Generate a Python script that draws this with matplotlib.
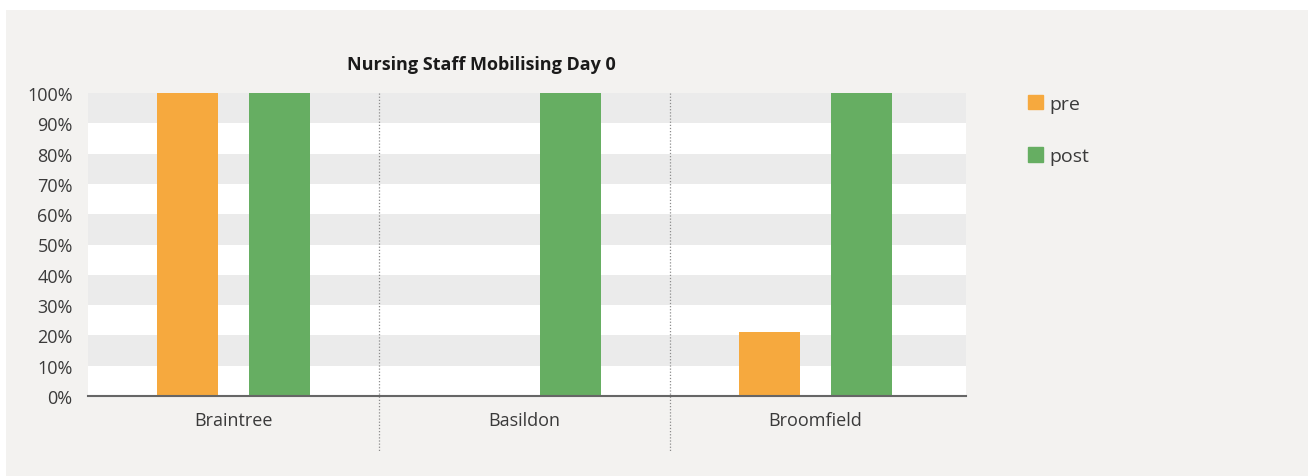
import matplotlib.pyplot as plt
import matplotlib.patches as mpatches
import numpy as np

plt.rcParams['font.family'] = ['Open Sans', 'DejaVu Sans']

# data
sites = ['Braintree', 'Basildon', 'Broomfield']
pre = [100, 0, 21]
post = [100, 100, 100]
yticks = list(range(0, 101, 10))

W, H = 1314, 477
fig = plt.figure(figsize=(W / 100, H / 100), dpi=100, facecolor='white')

# light panel behind the chart
fig.patches.append(mpatches.Rectangle((6 / W, 0), 1302 / W, 466 / H,
                                      transform=fig.transFigure,
                                      facecolor='#f3f2f0', edgecolor='none', zorder=-5))

ax = fig.add_axes([88 / W, 1 - 397 / H, (966 - 88) / W, (397 - 94) / H])
ax.set_facecolor('none')

x = np.arange(len(sites))
bw = 0.21
off = 0.158

# alternating horizontal bands
for lo in range(0, 100, 10):
    c = '#ebebeb' if (lo // 10) % 2 == 1 else 'white'
    ax.axhspan(lo, lo + 10, color=c, zorder=0, lw=0)

ax.bar(x - off, pre, bw, color='#f6a93e', label='pre', zorder=2)
ax.bar(x + off, post, bw, color='#66ae62', label='post', zorder=2)

ax.set_xlim(-0.5, len(sites) - 0.5 + 0.017)
ax.set_ylim(0, 100)

# dotted separators between categories, running below the axis
for s in x[:-1] + 0.5:
    ax.plot([s, s], [100, -18], ls=(0, (1, 1.5)), color='#8c8c8c', lw=0.9,
            clip_on=False, zorder=3)

ax.set_yticks(yticks)
ax.set_yticklabels([f'{v}%' for v in yticks])
ax.set_xticks(x)
ax.set_xticklabels(sites)
ax.tick_params(length=0, labelsize=13, colors='#3a3a3a')
ax.tick_params(axis='y', pad=11)
ax.tick_params(axis='x', pad=11)

for name, sp in ax.spines.items():
    sp.set_visible(name == 'bottom')
ax.spines['bottom'].set_color('#666666')
ax.spines['bottom'].set_linewidth(1.5)
ax.spines['bottom'].set_zorder(4)

fig.text(481 / W, 1 - 65 / H, 'Nursing Staff Mobilising Day 0', fontsize=13,
         fontweight='bold', color='#1a1a1a', ha='center', va='center')

leg = fig.legend(handles=[mpatches.Patch(color='#f6a93e', label='pre'),
                          mpatches.Patch(color='#66ae62', label='post')],
                 loc='upper left', bbox_to_anchor=(1010 / W, 1 - 78 / H),
                 frameon=False, fontsize=14, handlelength=0.8, handleheight=0.8,
                 handletextpad=0.3, labelspacing=1.75, labelcolor='#3a3a3a')

fig.savefig('out.png', dpi=100, facecolor=fig.get_facecolor())
